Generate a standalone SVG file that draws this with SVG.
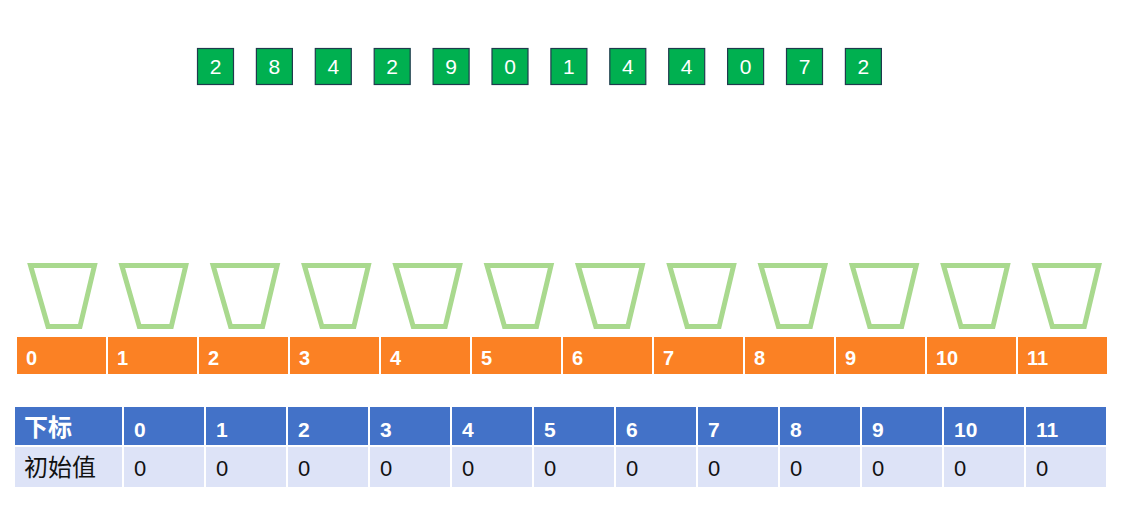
<svg xmlns="http://www.w3.org/2000/svg" width="1131" height="505" viewBox="0 0 1131 505">
<style>
.num rect{fill:#00B050;stroke:#1F3B4D;stroke-width:1.2}
.num text{font-family:"Liberation Sans",Arial,sans-serif;font-size:21px;fill:#fff;text-anchor:middle}
.bucket{fill:none;stroke:#A9D98E;stroke-width:5;stroke-linejoin:miter}
.cell{fill:#FB8124}
.ct{font-family:"Liberation Sans",Arial,sans-serif;font-size:20px;font-weight:bold;fill:#fff}
.th{fill:#4372C8}
.td{fill:#DDE3F7}
.tht{font-family:"Liberation Sans","Noto Sans CJK SC",sans-serif;font-size:21px;font-weight:bold;fill:#fff}
.thc{font-family:"Noto Sans CJK SC",sans-serif;font-size:24px;font-weight:bold;fill:#fff}
.tdt{font-family:"Liberation Sans","Noto Sans CJK SC",sans-serif;font-size:22px;fill:#111}
.tdc{font-family:"Noto Sans CJK SC",sans-serif;font-size:24px;fill:#111}
</style>
<g id="numbers" class="num">
<g id="n0"><rect x="197.5" y="48.5" width="36" height="36"/><text x="215.5" y="74">2</text></g>
<g id="n1"><rect x="256.4" y="48.5" width="36" height="36"/><text x="274.4" y="74">8</text></g>
<g id="n2"><rect x="315.3" y="48.5" width="36" height="36"/><text x="333.3" y="74">4</text></g>
<g id="n3"><rect x="374.2" y="48.5" width="36" height="36"/><text x="392.2" y="74">2</text></g>
<g id="n4"><rect x="433.1" y="48.5" width="36" height="36"/><text x="451.1" y="74">9</text></g>
<g id="n5"><rect x="492" y="48.5" width="36" height="36"/><text x="510" y="74">0</text></g>
<g id="n6"><rect x="550.9" y="48.5" width="36" height="36"/><text x="568.9" y="74">1</text></g>
<g id="n7"><rect x="609.8" y="48.5" width="36" height="36"/><text x="627.8" y="74">4</text></g>
<g id="n8"><rect x="668.7" y="48.5" width="36" height="36"/><text x="686.7" y="74">4</text></g>
<g id="n9"><rect x="727.6" y="48.5" width="36" height="36"/><text x="745.6" y="74">0</text></g>
<g id="n10"><rect x="786.5" y="48.5" width="36" height="36"/><text x="804.5" y="74">7</text></g>
<g id="n11"><rect x="845.4" y="48.5" width="36" height="36"/><text x="863.4" y="74">2</text></g>
</g>
<g id="buckets">
<polygon id="b0" class="bucket" points="30.5,265.5 94.5,265.5 80,326.5 48,326.5"/>
<polygon id="b1" class="bucket" transform="translate(91.3,0)" points="30.5,265.5 94.5,265.5 80,326.5 48,326.5"/>
<polygon id="b2" class="bucket" transform="translate(182.6,0)" points="30.5,265.5 94.5,265.5 80,326.5 48,326.5"/>
<polygon id="b3" class="bucket" transform="translate(273.9,0)" points="30.5,265.5 94.5,265.5 80,326.5 48,326.5"/>
<polygon id="b4" class="bucket" transform="translate(365.2,0)" points="30.5,265.5 94.5,265.5 80,326.5 48,326.5"/>
<polygon id="b5" class="bucket" transform="translate(456.5,0)" points="30.5,265.5 94.5,265.5 80,326.5 48,326.5"/>
<polygon id="b6" class="bucket" transform="translate(547.8,0)" points="30.5,265.5 94.5,265.5 80,326.5 48,326.5"/>
<polygon id="b7" class="bucket" transform="translate(639.1,0)" points="30.5,265.5 94.5,265.5 80,326.5 48,326.5"/>
<polygon id="b8" class="bucket" transform="translate(730.4,0)" points="30.5,265.5 94.5,265.5 80,326.5 48,326.5"/>
<polygon id="b9" class="bucket" transform="translate(821.7,0)" points="30.5,265.5 94.5,265.5 80,326.5 48,326.5"/>
<polygon id="b10" class="bucket" transform="translate(913,0)" points="30.5,265.5 94.5,265.5 80,326.5 48,326.5"/>
<polygon id="b11" class="bucket" transform="translate(1004.3,0)" points="30.5,265.5 94.5,265.5 80,326.5 48,326.5"/>
</g>
<g id="slots">
<g id="s0"><rect class="cell" x="17" y="337" width="89" height="37"/><text class="ct" x="26" y="365">0</text></g>
<g id="s1"><rect class="cell" x="108" y="337" width="89" height="37"/><text class="ct" x="117" y="365">1</text></g>
<g id="s2"><rect class="cell" x="199" y="337" width="89" height="37"/><text class="ct" x="208" y="365">2</text></g>
<g id="s3"><rect class="cell" x="290" y="337" width="89" height="37"/><text class="ct" x="299" y="365">3</text></g>
<g id="s4"><rect class="cell" x="381" y="337" width="89" height="37"/><text class="ct" x="390" y="365">4</text></g>
<g id="s5"><rect class="cell" x="472" y="337" width="89" height="37"/><text class="ct" x="481" y="365">5</text></g>
<g id="s6"><rect class="cell" x="563" y="337" width="89" height="37"/><text class="ct" x="572" y="365">6</text></g>
<g id="s7"><rect class="cell" x="654" y="337" width="89" height="37"/><text class="ct" x="663" y="365">7</text></g>
<g id="s8"><rect class="cell" x="745" y="337" width="89" height="37"/><text class="ct" x="754" y="365">8</text></g>
<g id="s9"><rect class="cell" x="836" y="337" width="89" height="37"/><text class="ct" x="845" y="365">9</text></g>
<g id="s10"><rect class="cell" x="927" y="337" width="89" height="37"/><text class="ct" x="936" y="365">10</text></g>
<g id="s11"><rect class="cell" x="1018" y="337" width="89" height="37"/><text class="ct" x="1027" y="365">11</text></g>
</g>
<g id="table">
<rect class="th" x="15" y="407" width="107" height="38"/><text class="thc" x="24" y="436">下标</text>
<rect class="td" x="15" y="447" width="107" height="40"/><text class="tdc" x="24" y="476">初始值</text>
<g id="col0"><rect class="th" x="124" y="407" width="80" height="38"/><text class="tht" x="134" y="437">0</text><rect class="td" x="124" y="447" width="80" height="40"/><text class="tdt" x="134" y="476">0</text></g>
<g id="col1"><rect class="th" x="206" y="407" width="80" height="38"/><text class="tht" x="216" y="437">1</text><rect class="td" x="206" y="447" width="80" height="40"/><text class="tdt" x="216" y="476">0</text></g>
<g id="col2"><rect class="th" x="288" y="407" width="80" height="38"/><text class="tht" x="298" y="437">2</text><rect class="td" x="288" y="447" width="80" height="40"/><text class="tdt" x="298" y="476">0</text></g>
<g id="col3"><rect class="th" x="370" y="407" width="80" height="38"/><text class="tht" x="380" y="437">3</text><rect class="td" x="370" y="447" width="80" height="40"/><text class="tdt" x="380" y="476">0</text></g>
<g id="col4"><rect class="th" x="452" y="407" width="80" height="38"/><text class="tht" x="462" y="437">4</text><rect class="td" x="452" y="447" width="80" height="40"/><text class="tdt" x="462" y="476">0</text></g>
<g id="col5"><rect class="th" x="534" y="407" width="80" height="38"/><text class="tht" x="544" y="437">5</text><rect class="td" x="534" y="447" width="80" height="40"/><text class="tdt" x="544" y="476">0</text></g>
<g id="col6"><rect class="th" x="616" y="407" width="80" height="38"/><text class="tht" x="626" y="437">6</text><rect class="td" x="616" y="447" width="80" height="40"/><text class="tdt" x="626" y="476">0</text></g>
<g id="col7"><rect class="th" x="698" y="407" width="80" height="38"/><text class="tht" x="708" y="437">7</text><rect class="td" x="698" y="447" width="80" height="40"/><text class="tdt" x="708" y="476">0</text></g>
<g id="col8"><rect class="th" x="780" y="407" width="80" height="38"/><text class="tht" x="790" y="437">8</text><rect class="td" x="780" y="447" width="80" height="40"/><text class="tdt" x="790" y="476">0</text></g>
<g id="col9"><rect class="th" x="862" y="407" width="80" height="38"/><text class="tht" x="872" y="437">9</text><rect class="td" x="862" y="447" width="80" height="40"/><text class="tdt" x="872" y="476">0</text></g>
<g id="col10"><rect class="th" x="944" y="407" width="80" height="38"/><text class="tht" x="954" y="437">10</text><rect class="td" x="944" y="447" width="80" height="40"/><text class="tdt" x="954" y="476">0</text></g>
<g id="col11"><rect class="th" x="1026" y="407" width="80" height="38"/><text class="tht" x="1036" y="437">11</text><rect class="td" x="1026" y="447" width="80" height="40"/><text class="tdt" x="1036" y="476">0</text></g>
</g>
</svg>
